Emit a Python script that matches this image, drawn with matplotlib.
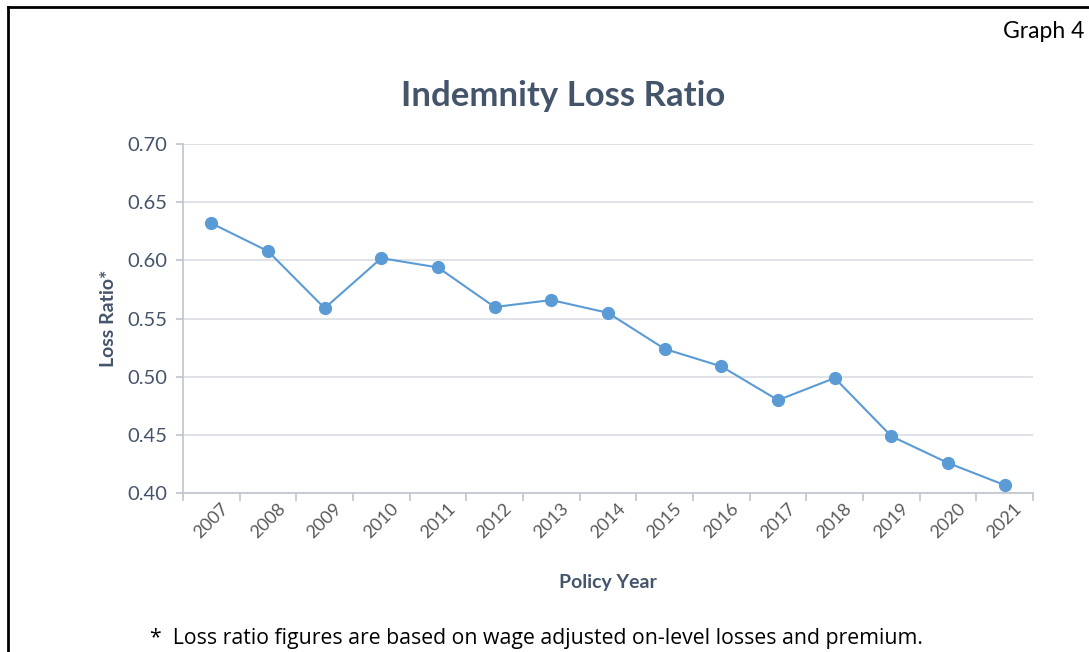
import matplotlib.pyplot as plt
from matplotlib.lines import Line2D
import numpy as np

# data
years = ['2007', '2008', '2009', '2010', '2011', '2012', '2013', '2014',
         '2015', '2016', '2017', '2018', '2019', '2020', '2021']
loss_ratio = [0.632, 0.608, 0.559, 0.602, 0.594, 0.560, 0.566, 0.555,
              0.524, 0.509, 0.480, 0.499, 0.449, 0.426, 0.407]
y_ticks = [0.40, 0.45, 0.50, 0.55, 0.60, 0.65, 0.70]

plt.rcParams['font.family'] = ['Lato', 'DejaVu Sans']

text_col = '#44546A'
line_col = '#5B9BD5'
grid_col = '#D9DDE3'
axis_col = '#BFC5CE'

fig = plt.figure(figsize=(10.89, 6.52), dpi=100)
ax = fig.add_axes([0.168, 0.2435, 0.7806, 0.5355])

x = np.arange(len(years))
ax.plot(x, loss_ratio, color=line_col, linewidth=1.5, marker='o',
        markersize=8.5, markerfacecolor=line_col, markeredgecolor=line_col,
        zorder=3)

ax.set_xlim(-0.5, len(years) - 0.5)
ax.set_ylim(0.40, 0.70)
ax.set_yticks(y_ticks)
ax.set_yticklabels([f'{v:.2f}' for v in y_ticks], fontsize=14.5, color=text_col)
ax.yaxis.grid(True, color=grid_col, linewidth=1.2)
ax.set_axisbelow(True)

ax.set_xticks(x)
ax.set_xticklabels(years, rotation=45, ha='center', va='top',
                   fontsize=13, color='#595959')
ax.set_xticks(np.arange(-0.5, len(years)), minor=True)
ax.tick_params(axis='x', which='major', length=0, pad=5)
ax.tick_params(axis='x', which='minor', length=6, color=axis_col, width=1.2)
ax.tick_params(axis='y', length=5, color=axis_col, width=1.2, pad=6)

for s in ['top', 'right']:
    ax.spines[s].set_visible(False)
for s in ['left', 'bottom']:
    ax.spines[s].set_color(axis_col)
    ax.spines[s].set_linewidth(1.2)

ax.set_xlabel('Policy Year', fontsize=14, fontweight='bold', color=text_col,
              labelpad=24)
ax.set_ylabel('Loss Ratio*', fontsize=14, fontweight='bold', color=text_col,
              labelpad=8)

fig.text(0.517, 0.853, 'Indemnity Loss Ratio', ha='center', va='center',
         fontsize=25, fontweight='bold', color=text_col)
fig.text(0.996, 0.951, 'Graph 4', ha='right', va='center', fontsize=16.5,
         color='black')
fig.text(0.138, 0.02, '*  Loss ratio figures are based on wage adjusted on-level losses and premium.',
         ha='left', va='center', fontsize=15.3, color='black',
         family=['Open Sans', 'DejaVu Sans'])

# outer frame (top and left edges)
fig.add_artist(Line2D([0.0075, 1.0], [0.989, 0.989], color='black',
                      linewidth=2, transform=fig.transFigure))
fig.add_artist(Line2D([0.0075, 0.0075], [0.0, 0.989], color='black',
                      linewidth=2, transform=fig.transFigure))

fig.savefig('out.png', dpi=100)
